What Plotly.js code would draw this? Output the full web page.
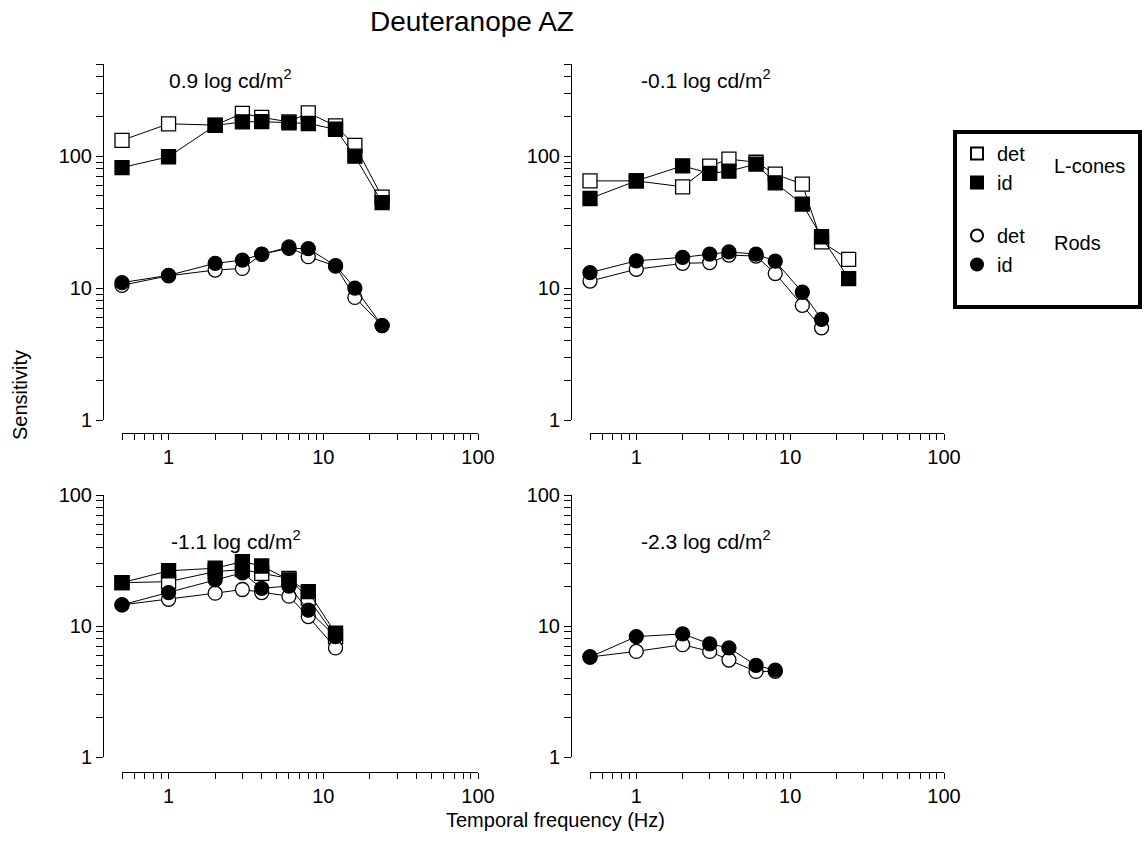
<!DOCTYPE html>
<html>
<head>
<meta charset="utf-8">
<script src="https://cdn.plot.ly/plotly-3.0.1.min.js"></script>
<style>html,body{margin:0;padding:0;background:#fff;}#chart{width:1147px;height:854px;}</style>
</head>
<body>
<div id="chart"></div>
<script>
// ---- data ----
const freqTL = [0.5, 1, 2, 3, 4, 6, 8, 12, 16, 24];
const lconeDetTL = [132, 176, 172, 211, 197, 182, 213, 170, 121, 49];
const lconeIdTL  = [82, 99, 171, 182, 183, 179, 177, 160, 100, 44.5];
const rodDetTL   = [10.5, 12.4, 13.7, 14.1, 18, 20.5, 17.3, 14.7, 8.5, 5.2];
const rodIdTL    = [11, 12.5, 15.4, 16.3, 18.1, 20, 19.9, 14.8, 10, 5.2];

const freqTR_L = [0.5, 1, 2, 3, 4, 6, 8, 12, 16, 24];
const freqTR_R = [0.5, 1, 2, 3, 4, 6, 8, 12, 16];
const lconeDetTR = [65, 65, 58.6, 84, 95, 90, 73, 61.4, 22.4, 16.5];
const lconeIdTR  = [47.8, 65, 84.5, 74, 77, 87, 62.8, 43.3, 24.5, 11.8];
const rodDetTR   = [11.3, 13.9, 15.4, 15.6, 17.8, 17.5, 12.9, 7.4, 5.0];
const rodIdTR    = [13.1, 16.1, 17.1, 18.1, 18.8, 18.1, 16.0, 9.3, 5.8];

const freqBL = [0.5, 1, 2, 3, 4, 6, 8, 12];
const lconeDetBL = [21.4, 21.8, 26, 27, 25.2, 23.1, 16.3, 8.3];
const lconeIdBL  = [21.4, 26.4, 27.6, 31, 28.7, 22.5, 18.3, 8.8];
const rodDetBL   = [14.5, 16, 17.8, 19, 18, 16.9, 11.8, 6.8];
const rodIdBL    = [14.5, 18, 22.5, 25.5, 19.4, 20.2, 13.2, 8.3];

const freqBR = [0.5, 1, 2, 3, 4, 6, 8];
const rodDetBR = [5.8, 6.4, 7.2, 6.4, 5.5, 4.5, 4.5];
const rodIdBR  = [5.8, 8.3, 8.7, 7.3, 6.8, 5.0, 4.6];

const panelTitles = ['0.9 log cd/m<sup>2</sup>', '-0.1 log cd/m<sup>2</sup>', '-1.1 log cd/m<sup>2</sup>', '-2.3 log cd/m<sup>2</sup>'];
const xTickVals = [0.5,0.6,0.7,0.8,0.9,1,2,3,4,5,6,7,8,9,10,20,30,40,50,60,70,80,90,100];
const xTickText = xTickVals.map(v => (v === 1 || v === 10 || v === 100) ? String(v) : '');
const yTickValsTop = [1,2,3,4,5,6,7,8,9,10,20,30,40,50,60,70,80,90,100,200,300,400,500];
const yTickValsBot = [1,2,3,4,5,6,7,8,9,10,20,30,40,50,60,70,80,90,100];
const yText = vals => vals.map(v => (v === 1 || v === 10 || v === 100) ? String(v) : '');

// ---- geometry helpers ----
const W = 1147, H = 854;
const px = v => v / W;
const py = v => 1 - v / H;
const FONT = 'Liberation Sans, Arial, sans-serif';

const styles = {
  ldet: {symbol: 'square', color: '#fff'},
  lid:  {symbol: 'square', color: '#000'},
  rdet: {symbol: 'circle', color: '#fff'},
  rid:  {symbol: 'circle', color: '#000'}
};
function tr(x, y, kind, xa, ya) {
  const s = styles[kind];
  return {
    x: x, y: y, xaxis: xa, yaxis: ya, type: 'scatter', mode: 'lines+markers',
    line: {color: '#000', width: 1},
    marker: {symbol: s.symbol, size: 14, color: s.color, line: {color: '#000', width: 1.3}},
    cliponaxis: false, showlegend: false, hoverinfo: 'skip'
  };
}

const data = [
  tr(freqTL, lconeDetTL, 'ldet', 'x', 'y'),
  tr(freqTL, lconeIdTL, 'lid', 'x', 'y'),
  tr(freqTL, rodDetTL, 'rdet', 'x', 'y'),
  tr(freqTL, rodIdTL, 'rid', 'x', 'y'),
  tr(freqTR_L, lconeDetTR, 'ldet', 'x2', 'y2'),
  tr(freqTR_L, lconeIdTR, 'lid', 'x2', 'y2'),
  tr(freqTR_R, rodDetTR, 'rdet', 'x2', 'y2'),
  tr(freqTR_R, rodIdTR, 'rid', 'x2', 'y2'),
  tr(freqBL, lconeDetBL, 'ldet', 'x3', 'y3'),
  tr(freqBL, lconeIdBL, 'lid', 'x3', 'y3'),
  tr(freqBL, rodDetBL, 'rdet', 'x3', 'y3'),
  tr(freqBL, rodIdBL, 'rid', 'x3', 'y3'),
  tr(freqBR, rodDetBR, 'rdet', 'x4', 'y4'),
  tr(freqBR, rodIdBR, 'rid', 'x4', 'y4')
];

// legend entries
const legendNames = ['det', 'id', 'det', 'id'];
const legendKinds = ['ldet', 'lid', 'rdet', 'rid'];
const legendGroups = ['L', 'L', 'R', 'R'];
legendKinds.forEach((k, i) => {
  const s = styles[k];
  data.push({
    x: [null], y: [null], type: 'scatter', mode: 'markers', name: legendNames[i],
    legendgroup: legendGroups[i], showlegend: true, xaxis: 'x', yaxis: 'y',
    marker: {symbol: s.symbol, size: 13, color: s.color, line: {color: '#000', width: 1.3}}
  });
});

const TICKSIZE = 20;
function xax(domain, posY) {
  return {
    type: 'log', domain: domain, range: [Math.log10(0.5), 2], anchor: 'free', position: posY,
    showline: true, linecolor: '#000', linewidth: 1.2, mirror: false,
    ticks: 'outside', ticklen: 6, tickwidth: 1, tickcolor: '#000',
    tickvals: xTickVals, ticktext: xTickText, tickfont: {size: TICKSIZE, color: '#000', family: FONT},
    showgrid: false, zeroline: false, fixedrange: true
  };
}
function yax(domain, top, vals, posX) {
  return {
    type: 'log', domain: domain, range: [0, Math.log10(top)], anchor: 'free', position: posX,
    showline: true, linecolor: '#000', linewidth: 1.2,
    ticks: 'outside', ticklen: 7, tickwidth: 1, tickcolor: '#000',
    tickvals: vals, ticktext: yText(vals), tickfont: {size: TICKSIZE, color: '#000', family: FONT},
    showgrid: false, zeroline: false, fixedrange: true
  };
}

const topDom = [py(420), py(64)];
const botDom = [py(757), py(495)];
const leftDom = [px(122), px(478)];
const rightDom = [px(590), px(944)];

const layout = {
  width: W, height: H,
  margin: {l: 0, r: 0, t: 0, b: 0},
  paper_bgcolor: '#fff', plot_bgcolor: 'rgba(0,0,0,0)',
  font: {family: FONT, color: '#000', size: 20},
  showlegend: true,
  xaxis: xax(leftDom, py(433)),
  yaxis: yax(topDom, 500, yTickValsTop, px(103)),
  xaxis2: xax(rightDom, py(433)),
  yaxis2: yax(topDom, 500, yTickValsTop, px(571)),
  xaxis3: xax(leftDom, py(772)),
  yaxis3: yax(botDom, 100, yTickValsBot, px(103)),
  xaxis4: xax(rightDom, py(772)),
  yaxis4: yax(botDom, 100, yTickValsBot, px(571)),
  legend: {
    x: px(957), y: py(134), xanchor: 'left', yanchor: 'top',
    bgcolor: 'rgba(0,0,0,0)', borderwidth: 0,
    font: {size: 20, family: FONT, color: '#000'},
    traceorder: 'grouped', tracegroupgap: 24, itemsizing: 'constant'
  },
  shapes: [{
    type: 'rect', xref: 'paper', yref: 'paper',
    x0: px(955), x1: px(1140), y0: py(307), y1: py(132),
    line: {color: '#000', width: 4}, fillcolor: 'rgba(0,0,0,0)'
  }],
  annotations: [
    {text: 'Deuteranope AZ', xref: 'paper', yref: 'paper', x: px(472), y: py(21), xanchor: 'center', yanchor: 'middle', showarrow: false, font: {size: 28}},
    {text: panelTitles[0], xref: 'paper', yref: 'paper', x: px(167), y: py(79), xanchor: 'left', yanchor: 'middle', showarrow: false, font: {size: 21}},
    {text: panelTitles[1], xref: 'paper', yref: 'paper', x: px(639), y: py(79), xanchor: 'left', yanchor: 'middle', showarrow: false, font: {size: 21}},
    {text: panelTitles[2], xref: 'paper', yref: 'paper', x: px(169), y: py(540), xanchor: 'left', yanchor: 'middle', showarrow: false, font: {size: 21}},
    {text: panelTitles[3], xref: 'paper', yref: 'paper', x: px(639), y: py(540), xanchor: 'left', yanchor: 'middle', showarrow: false, font: {size: 21}},
    {text: 'Sensitivity', xref: 'paper', yref: 'paper', x: px(20), y: py(395), xanchor: 'center', yanchor: 'middle', textangle: -90, showarrow: false, font: {size: 20}},
    {text: 'Temporal frequency (Hz)', xref: 'paper', yref: 'paper', x: px(555), y: py(820), xanchor: 'center', yanchor: 'middle', showarrow: false, font: {size: 20}},
    {text: 'L-cones', xref: 'paper', yref: 'paper', x: px(1052), y: py(166), xanchor: 'left', yanchor: 'middle', showarrow: false, font: {size: 20}},
    {text: 'Rods', xref: 'paper', yref: 'paper', x: px(1052), y: py(243), xanchor: 'left', yanchor: 'middle', showarrow: false, font: {size: 20}}
  ]
};

Plotly.newPlot('chart', data, layout, {displayModeBar: false, staticPlot: true});
</script>
</body>
</html>
